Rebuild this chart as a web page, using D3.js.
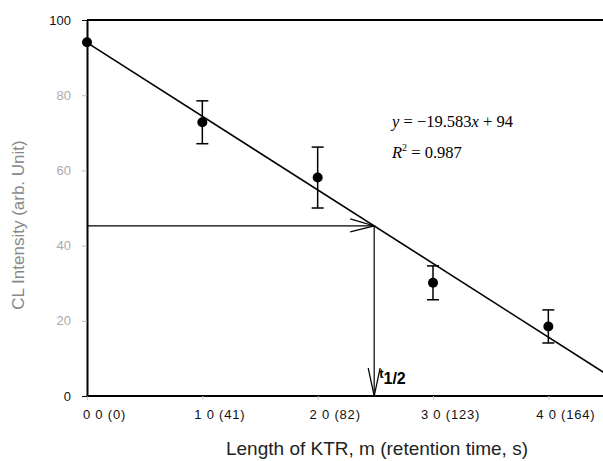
<!DOCTYPE html>
<html>
<head>
<meta charset="utf-8">
<script src="https://cdn.jsdelivr.net/npm/d3@7"></script>
<style>
  body { margin: 0; background: #fff; }
  svg { display: block; }
</style>
</head>
<body>
<svg id="chart" width="603" height="461"></svg>
<script>
// data
const lengths = [0, 1, 2, 3, 4];
const intensity = [94.1, 72.8, 58.1, 30.1, 18.5];
const errors = [0, 5.7, 8.1, 4.5, 4.4];
const xTickLabels = ["0 0 (0)", "1 0 (41)", "2 0 (82)", "3 0 (123)", "4 0 (164)"];
const yTicks = [0, 20, 40, 60, 80, 100];
const slope = -19.583;
const intercept = 94;
const tHalf = 2.49;

const svg = d3.select("#chart");

const x = d3.scaleLinear().domain([0, 4.5]).range([87, 606]);
const y = d3.scaleLinear().domain([0, 100]).range([396, 20]);

// frame top line
svg.append("line")
  .attr("x1", x(0)).attr("x2", 603)
  .attr("y1", y(100)).attr("y2", y(100))
  .attr("stroke", "#000").attr("stroke-width", 2);

// X axis
const xAxis = svg.append("g")
  .attr("transform", `translate(0,${y(0)})`)
  .call(d3.axisBottom(x).tickValues(lengths).tickSize(4).tickSizeOuter(0)
    .tickFormat((d, i) => xTickLabels[i]));
xAxis.select(".domain").attr("stroke-width", 2).attr("d", `M${x(0)},0H603`);
xAxis.selectAll(".tick line").attr("stroke", "#ccc");
xAxis.selectAll(".tick text")
  .attr("dx", 17).attr("dy", "1.25em")
  .style("font-family", "Liberation Sans, Arial, sans-serif")
  .style("font-size", "13px").style("letter-spacing", "0.8px")
  .attr("fill", "#111");

// Y axis
const yAxis = svg.append("g")
  .attr("transform", `translate(${x(0)},0)`)
  .call(d3.axisLeft(y).tickValues(yTicks).tickSize(5).tickSizeOuter(0).tickPadding(11));
yAxis.select(".domain").attr("stroke-width", 2);
yAxis.selectAll(".tick line").attr("stroke", d => (d === 0 || d === 100) ? "#000" : "#bbb");
yAxis.selectAll(".tick text")
  .style("font-family", "Liberation Sans, Arial, sans-serif")
  .style("font-size", "13px")
  .attr("fill", d => (d === 0 || d === 100) ? "#111" : "#aaa");

// axis titles
svg.append("text")
  .attr("x", 377).attr("y", 455)
  .attr("text-anchor", "middle")
  .style("font-family", "Liberation Sans, Arial, sans-serif")
  .style("font-size", "19px").attr("fill", "#222")
  .text("Length of KTR, m (retention time, s)");

svg.append("text")
  .attr("transform", "translate(24,225) rotate(-90)")
  .attr("text-anchor", "middle")
  .style("font-family", "Liberation Sans, Arial, sans-serif")
  .style("font-size", "17px").attr("fill", "#888")
  .text("CL Intensity (arb. Unit)");

// regression line
const fitX = [0, 4.5];
svg.append("line")
  .attr("x1", x(fitX[0])).attr("y1", y(intercept + slope * fitX[0]))
  .attr("x2", x(fitX[1])).attr("y2", y(intercept + slope * fitX[1]))
  .attr("stroke", "#000").attr("stroke-width", 1.6);

// error bars
const pts = lengths.map((d, i) => ({ x: d, y: intensity[i], e: errors[i] }));
const eb = svg.append("g").attr("stroke", "#000").attr("stroke-width", 1.5);
pts.filter(d => d.e > 0).forEach(d => {
  eb.append("line").attr("x1", x(d.x)).attr("x2", x(d.x))
    .attr("y1", y(d.y + d.e)).attr("y2", y(d.y - d.e));
  [d.y + d.e, d.y - d.e].forEach(v => {
    eb.append("line").attr("x1", x(d.x) - 6).attr("x2", x(d.x) + 6)
      .attr("y1", y(v)).attr("y2", y(v));
  });
});

svg.selectAll("circle.pt")
  .data(pts)
  .join("circle")
  .attr("class", "pt")
  .attr("cx", d => x(d.x)).attr("cy", d => y(d.y))
  .attr("r", 5).attr("fill", "#000");

// half-life arrows
const level = intercept + slope * tHalf;
const hx = x(tHalf), hy = y(level);
const arr = svg.append("g").attr("stroke", "#000").attr("stroke-width", 1.2).attr("fill", "none");
arr.append("line").attr("x1", x(0)).attr("y1", hy).attr("x2", hx).attr("y2", hy);
arr.append("path").attr("d", `M${hx - 24},${hy - 7}L${hx},${hy}L${hx - 24},${hy + 6}`);
arr.append("line").attr("x1", hx).attr("y1", hy).attr("x2", hx).attr("y2", y(0));
arr.append("path").attr("d", `M${hx - 6},${y(0) - 28}L${hx},${y(0)}L${hx + 6},${y(0) - 28}`);

const th = svg.append("text")
  .attr("x", hx + 5).attr("y", 384)
  .style("font-family", "Liberation Sans, Arial, sans-serif")
  .style("font-weight", "bold").attr("fill", "#000");
th.append("tspan").style("font-size", "13px").attr("dy", -6).text("t");
th.append("tspan").style("font-size", "16px").attr("dy", 6).text("1/2");

// equation
const eq = svg.append("g")
  .style("font-family", "Liberation Serif, Times New Roman, serif")
  .style("font-size", "16.5px").attr("fill", "#000");
const e1 = eq.append("text").attr("x", 392).attr("y", 127);
e1.append("tspan").style("font-style", "italic").text("y");
e1.append("tspan").text(" = \u221219.583");
e1.append("tspan").style("font-style", "italic").text("x");
e1.append("tspan").text(" + 94");
const e2 = eq.append("text").attr("x", 392).attr("y", 158);
e2.append("tspan").style("font-style", "italic").text("R");
e2.append("tspan").style("font-size", "10px").attr("dy", -7).text("2");
e2.append("tspan").attr("dy", 7).text(" = 0.987");
</script>
</body>
</html>
